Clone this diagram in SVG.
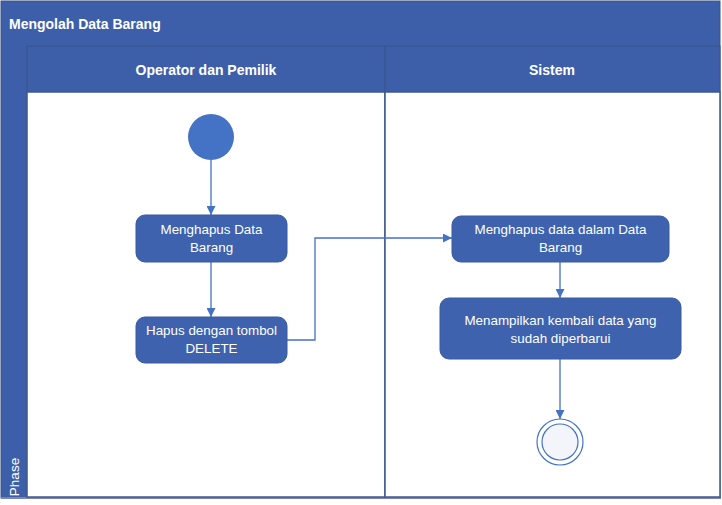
<svg xmlns="http://www.w3.org/2000/svg" width="722" height="505" viewBox="0 0 722 505">
<defs>
<style>
.band{fill:#3D5FA9;stroke:#3A5585;stroke-width:1}
.lane{fill:#FFFFFF;stroke:#3F5A8C;stroke-width:1.5}
.hdr{font-family:"Liberation Sans",Arial,sans-serif;font-weight:bold;font-size:14px;fill:#FFFFFF}
.node rect{fill:#3E62AE;stroke:#3A5A9E;stroke-width:1}
.node text{font-family:"Liberation Sans",Arial,sans-serif;font-size:13.4px;fill:#FFFFFF;text-anchor:middle}
.conn{fill:none;stroke:#4472C4;stroke-width:1.3}
</style>
<marker id="arr" viewBox="0 0 10 10" refX="10" refY="5" markerWidth="9" markerHeight="9" markerUnits="userSpaceOnUse" orient="auto">
<path d="M0,0 L10,5 L0,10 z" fill="#4472C4"/>
</marker>
</defs>
<rect x="0" y="0" width="722" height="505" fill="#FFFFFF"/>
<g id="pool">
<rect class="band" x="1" y="1" width="719" height="497"/>
<rect x="1" y="497" width="720" height="2" fill="#7C84B0"/>
<text class="hdr" x="9" y="29" font-size="15">Mengolah Data Barang</text>
<rect class="band" x="27" y="46" width="693" height="46"/>
<rect class="lane" x="27" y="92" width="358" height="405"/>
<rect class="lane" x="385" y="92" width="335" height="405"/>
<line x1="385" y1="46" x2="385" y2="92" stroke="#3A5585" stroke-width="1.2"/>
<text class="hdr" x="206" y="75" text-anchor="middle">Operator dan Pemilik</text>
<text class="hdr" x="552" y="75" text-anchor="middle">Sistem</text>
<text x="19" y="477" transform="rotate(-90 19 477)" text-anchor="middle" font-family="Liberation Sans,Arial,sans-serif" font-size="13.5" fill="#FFFFFF">Phase</text>
</g>
<g id="connectors">
<line class="conn" x1="211" y1="160" x2="211" y2="215" marker-end="url(#arr)"/>
<line class="conn" x1="211" y1="262" x2="211" y2="317" marker-end="url(#arr)"/>
<polyline class="conn" points="287,340 315,340 315,238 452,238" marker-end="url(#arr)"/>
<line class="conn" x1="560" y1="262" x2="560" y2="298" marker-end="url(#arr)"/>
<line class="conn" x1="560" y1="359" x2="560" y2="419" marker-end="url(#arr)"/>
</g>
<g id="start">
<circle cx="211" cy="137" r="23" fill="#4472C4"/>
</g>
<g id="n1" class="node">
<rect x="136" y="215" width="151" height="47" rx="9"/>
<text x="211.5" y="234">Menghapus Data</text>
<text x="211.5" y="252">Barang</text>
</g>
<g id="n2" class="node">
<rect x="136" y="317" width="151" height="46" rx="9"/>
<text x="211.5" y="335">Hapus dengan tombol</text>
<text x="211.5" y="353">DELETE</text>
</g>
<g id="n3" class="node">
<rect x="452" y="216" width="217" height="46" rx="9"/>
<text x="560.5" y="234">Menghapus data dalam Data</text>
<text x="560.5" y="252">Barang</text>
</g>
<g id="n4" class="node">
<rect x="440" y="298" width="241" height="61" rx="9"/>
<text x="560.5" y="325">Menampilkan kembali data yang</text>
<text x="560.5" y="343">sudah diperbarui</text>
</g>
<g id="end">
<circle cx="560" cy="442" r="23" fill="#FFFFFF" stroke="#4472C4" stroke-width="1.2"/>
<circle cx="560" cy="442" r="18" fill="#F3F5FA" stroke="#4472C4" stroke-width="1.2"/>
</g>
</svg>
